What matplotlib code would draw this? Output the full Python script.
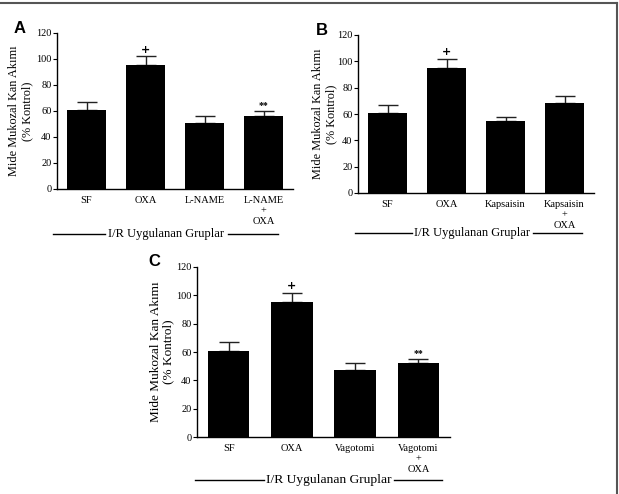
import matplotlib
matplotlib.use('Agg')
import matplotlib.pyplot as plt
from matplotlib.lines import Line2D

plt.rcParams['font.family'] = ['Liberation Serif', 'DejaVu Serif']

# panel data: mean and upper error (SEM) in % kontrol
cats_a = ['SF', 'OXA', 'L-NAME', 'L-NAME\n+\nOXA']
mean_a = [61, 95, 51, 56]
sem_a = [6, 7, 5, 4]
mark_a = ['', '+', '', '**']

cats_b = ['SF', 'OXA', 'Kapsaisin', 'Kapsaisin\n+\nOXA']
mean_b = [61, 95, 55, 68]
sem_b = [6, 7, 3, 6]
mark_b = ['', '+', '', '']

cats_c = ['SF', 'OXA', 'Vagotomi', 'Vagotomi\n+\nOXA']
mean_c = [61, 95, 47, 52]
sem_c = [6, 7, 5, 3]
mark_c = ['', '+', '', '**']

yticks = [0, 20, 40, 60, 80, 100, 120]
YLABEL = 'Mide Mukozal Kan Akımı\n(% Kontrol)'
GROUP = 'I/R Uygulanan Gruplar'

W, H = 619, 494
fig = plt.figure(figsize=(W / 100, H / 100), dpi=100)


def px_axes(x0, x1, ytop, ybot):
    return fig.add_axes([x0 / W, 1 - ybot / H, (x1 - x0) / W, (ybot - ytop) / H])


def panel(ax, cats, mean, sem, marks, letter, ylab_x, let_x, ylab_fs=8.8, fs=7.5):
    x = range(len(cats))
    ax.bar(x, mean, width=0.66, color='black', zorder=2)
    ax.errorbar(x, mean, yerr=[[0] * len(sem), sem], fmt='none', ecolor='#222222',
                elinewidth=1.0, capsize=7, capthick=1.0, zorder=1)
    for i, (m, s, t) in enumerate(zip(mean, sem, marks)):
        if t:
            ax.text(i, m + s + 1.0, t, ha='center', va='bottom',
                    fontsize=8 if t == '+' else 7, fontweight='bold',
                    family='DejaVu Sans' if t == '+' else None)
    ax.set_xlim(-0.5, 3.5)
    ax.set_ylim(0, 120)
    ax.set_yticks(yticks)
    ax.tick_params(axis='y', labelsize=fs, length=3, width=0.8, pad=1)
    ax.set_xticks(list(x))
    ax.set_xticklabels(cats, fontsize=fs, linespacing=1.25, va='top')
    ax.tick_params(axis='x', length=0, pad=5)
    for sp in ('top', 'right'):
        ax.spines[sp].set_visible(False)
    for sp in ('left', 'bottom'):
        ax.spines[sp].set_linewidth(1.0)
    ax.set_ylabel(YLABEL, fontsize=ylab_fs, linespacing=1.1)
    ax.yaxis.set_label_coords(ylab_x, 0.5)
    ax.text(let_x, 1.03, letter, transform=ax.transAxes, ha='right',
            va='center', fontsize=12, fontweight='bold', family='Liberation Sans')


def group_label(x0, xt0, xt1, x1, y, fs=9.0):
    fy = 1 - y / H
    fig.add_artist(Line2D([x0 / W, xt0 / W], [fy, fy], color='black', lw=1.0))
    fig.add_artist(Line2D([xt1 / W, x1 / W], [fy, fy], color='black', lw=1.0))
    fig.text((xt0 + xt1) / 2 / W, fy, GROUP, ha='center', va='center', fontsize=fs)


ax_a = px_axes(57, 293, 33, 189)
panel(ax_a, cats_a, mean_a, sem_a, mark_a, 'A', -0.10, -0.135)
group_label(53, 105, 228, 278, 234)

ax_b = px_axes(358, 594, 35, 193)
panel(ax_b, cats_b, mean_b, sem_b, mark_b, 'B', -0.088, -0.127)
group_label(355, 412, 533, 582, 233)

ax_c = px_axes(197, 450, 267, 437)
panel(ax_c, cats_c, mean_c, sem_c, mark_c, 'C', -0.088, -0.146, ylab_fs=9.5)
group_label(195, 264, 394, 442, 480, fs=9.7)

# outer frame (top and right edges only visible)
fig.add_artist(Line2D([0, 617 / W], [1 - 3 / H, 1 - 3 / H], color='#555555', lw=1.5))
fig.add_artist(Line2D([617 / W, 617 / W], [0, 1 - 3 / H], color='#555555', lw=1.5))

fig.savefig('out.png', dpi=100)
